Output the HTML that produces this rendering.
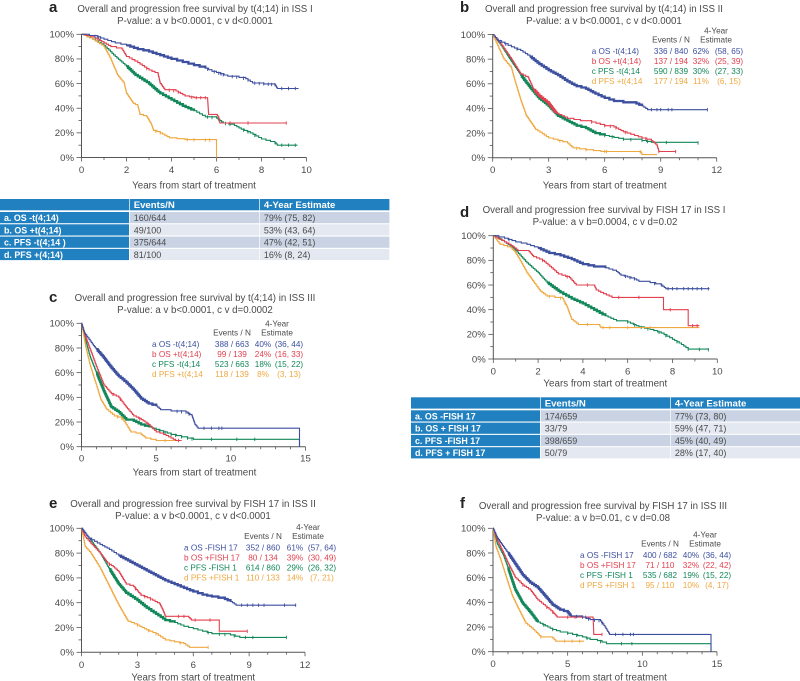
<!DOCTYPE html>
<html lang="en"><head><meta charset="utf-8"><title>Survival by t(4;14) and FISH 17</title>
<style>html,body{margin:0;padding:0;background:#fff}svg{display:block}text{font-family:"Liberation Sans",sans-serif;fill:#4a4a4a}</style>
</head><body>
<svg id="figure" width="800" height="681" viewBox="0 0 800 681" xmlns="http://www.w3.org/2000/svg"></svg>
<script>
const BLUE='#3d4f9f',RED='#e2404f',GREEN='#12875a',ORANGE='#efa840';
// Panel a
const a_os_neg_years=[0,0.7,1,1.5,2,2.5,3,3.5,4,4.5,5,5.5,5.8,6,6.5,7,7.3,7.6,8.6,8.7,9.65];
const a_os_neg_surv=[100,98,96,93,91,88,86,83,80,77.5,75,72.5,70,69,66,65,64,60.5,59,56,56];
const a_os_pos_years=[0,0.6,0.9,1.3,1.8,2,2.5,3,3.4,3.5,3.7,4.2,4.6,5,5.6,5.65,6,6.1,6.15,9.1];
const a_os_pos_surv=[100,97,94,90,88,82,77,71,68,60,55,54,50,48.5,48.5,35,35,32,28,28];
const a_pfs_neg_years=[0,0.5,1,1.5,2,2.4,3,3.5,4,4.5,5,5.5,6,6.3,6.8,7.1,7.5,8,8.6,8.7,9.6];
const a_pfs_neg_surv=[100,96,91,82,74,67,60,52,47,42,38,33,32,28,26,23,20,15,12,10,10];
const a_pfs_pos_years=[0,0.5,1,1.3,1.6,1.9,2,2.3,2.5,2.6,2.9,3.1,3.2,3.5,3.9,4.6,6,6];
const a_pfs_pos_surv=[100,96,90,80,67,60,52,44,42,35,33,27,22,20,16,14.5,14,0];
const a_os_neg_censor=[0.6,0.75,0.85,5.6,5.9,6.1,6.2,6.3,6.7,6.9,7.2,7.4,7.7,7.9,8.1,8.3,8.45,8.6,8.9,9.2,9.5];
const a_os_pos_censor=[2.9,3.9,4.1,4.3,4.9,5.1,5.3,5.5,6.6,7.4,9.1];
const a_pfs_neg_censor=[5.6,5.8,6.1,6.4,6.6,7.2,7.4,7.7,8.6,8.9,9.2,9.5];
const a_pfs_pos_censor=[3.3,3.5,4.7,5,5.5,5.7];
const a_os_neg_dense=[1.6,5.5];
const a_pfs_neg_dense=[2,5.4];
// Panel b
const b_os_neg_years=[0,0.3,1,1.5,2,2.5,3,3.5,4,4.5,5,5.5,6,6.5,7,7.7,8,8.3,11.5];
const b_os_neg_surv=[100,95,90,87,82,76,71,67,62,58,56,52,48.5,46,45,44,42,39,39];
const b_os_pos_years=[0,0.5,1,1.5,1.9,2.2,2.5,3,3.4,4,4.7,5.3,6,6.5,7,7.6,8,8.5,8.8,8.9,9.8];
const b_os_pos_surv=[100,91,80,68,65,55,50,44,36,32,30,29,26,25,21,18,16,14,10,5,5];
const b_pfs_neg_years=[0,0.5,1,1.5,2,2.5,3,3.5,4,4.5,5,5.5,6,6.5,7,8,8.5,11];
const b_pfs_neg_surv=[100,90,78,67,57,48,42,34,30,26,24,20,18,16.5,15,14,12.5,12];
const b_pfs_pos_years=[0,0.3,0.6,1,1.2,1.5,1.8,2.3,3,3.5,4,4.3,5,5.8,7.9,8,8.8];
const b_pfs_pos_surv=[100,90,80,73,62,47,34,23,16,14,12,8,6.5,5,5,2.5,2.5];
const b_os_neg_censor=[0.4,0.7,1.3,8.5,8.8,9,9.4,9.6,11.5];
const b_os_pos_censor=[5.3,6,6.3,6.6,7.1,8.2,8.9,9.8];
const b_pfs_neg_censor=[6,6.4,7,7.4,8,8.3,9.3,11];
const b_pfs_pos_censor=[3.6,4.5,5,6,6.1,7.9];
const b_os_neg_dense=[1.6,8];
const b_os_pos_dense=[2.2,3.6];
const b_pfs_neg_dense=[1.5,6];
// Panel c
const c_os_neg_years=[0,0.2,0.5,0.8,1,1.5,2,2.5,3,3.5,4,4.5,5,5.3,6,7,7.4,7.6,7.8,14.6,14.6];
const c_os_neg_surv=[100,92,87,82,79,72,64,57,52,46,39,35,33,30,29,28,25,18,15,15,0];
const c_os_pos_years=[0,0.3,0.7,1,1.5,2,2.5,3,3.5,4,4.5,5,5.5,6,6.3,6.7];
const c_os_pos_surv=[100,88,75,65,50,43,40,32,25,22,18,12,10,7,5,5];
const c_pfs_neg_years=[0,0.3,0.6,1,1.5,2,2.5,3,3.5,4,4.5,5,5.5,6,6.7,7.5,14.6,14.6];
const c_pfs_neg_surv=[100,85,72,60,45,32,28,22,21,18,16,14,12,10,8,6,6,0];
const c_pfs_pos_years=[0,0.3,0.6,1,1.3,1.7,2.2,2.7,3,3.3,4,4.3,5,6.3,6.7];
const c_pfs_pos_surv=[100,80,65,50,38,30,25,23,18,12,10,7,5,5,5];
const c_os_neg_censor=[6.4,6.7,7,7.2,8.2,8.7,9.2,9.4];
const c_os_pos_censor=[2.1,2.6,3.9,4.4,6.5];
const c_pfs_neg_censor=[5.2,5.6,6,6.3,6.7,7.1,7.4,8.7,10.4,11.6];
const c_pfs_pos_censor=[2.4,2.7,5.6];
const c_os_neg_dense=[1,5];
const c_pfs_neg_dense=[1,4.5];
// Panel d
const d_os_neg_years=[0,0.5,1,1.5,2,2.5,3,3.5,4,4.5,5,5.5,5.7,6,6.3,6.5,7,7.5,7.7,9.65];
const d_os_neg_surv=[100,98,95,93,90,86,84,81,77,75,74,71,68,66.5,65,63,62,60,57,57];
const d_os_pos_years=[0,0.4,0.8,1.1,1.6,1.8,2.2,2.6,2.9,3.4,3.7,4.5,4.6,4.8,5.3,7.6,7.6,8.7,8.7,9.2];
const d_os_pos_surv=[100,96,92,88,87,83,80,74,69,66,60,60,56,54,50,50,40,40,27,27];
const d_pfs_neg_years=[0,0.5,1,1.5,2,2.4,3,3.5,4,4.5,5,5.5,6,6.5,7,7.5,8,8.3,8.7,9.6];
const d_pfs_neg_surv=[100,95,88,78,70,62,54,49,45,40,35,31,30,26,24,21,16,13,8,7.5];
const d_pfs_pos_years=[0,0.3,0.8,1,1.2,1.5,1.9,2.1,2.4,3.1,3.3,3.5,3.8,4.7,4.8,9.2];
const d_pfs_pos_surv=[100,93,90,86,80,70,60,55,51,49,42,32,28,28,25.5,25.5];
const d_os_neg_censor=[0.7,5.9,6.1,6.3,7.2,7.5,7.8,8,8.2,8.5,8.7,8.9,9.1,9.3,9.6];
const d_os_pos_censor=[2.2,3.3,4.2,5.6,6.5,7.9,8.9,9.1];
const d_pfs_neg_censor=[6,6.3,6.6,6.9,7.4,7.7,8.2,8.7,9.2,9.6];
const d_pfs_pos_censor=[2.5,3,3.2,4.2,4.9,5.2,6,7];
const d_os_neg_dense=[1.7,5.4];
const d_pfs_neg_dense=[2.2,5.3];
// Panel e
const e_os_neg_years=[0,0.4,1,1.5,2,2.5,3,3.5,4,4.5,5,5.5,6,6.5,7,7.7,8,8.3,11.5];
const e_os_neg_surv=[100,92,87,83,78,74,70,66,62,58,55,52,49,46.5,45,43,41,38,38];
const e_os_pos_years=[0,0.2,0.5,1,1.4,1.7,2,2.4,2.8,3.2,3.7,4.2,4.4,4.5,5.7,5.9,7.4,7.4,8.9];
const e_os_pos_surv=[100,93,88,80,72,69,65,55,53,46,43,39,33,29,29,26,26,17,17];
const e_pfs_neg_years=[0,0.4,1,1.5,2,2.4,3,3.5,4,4.5,5,5.5,6,6.5,7,8,8.5,11];
const e_pfs_neg_surv=[100,92,80,67,55,48,42,36,31,26,24,21,19,17,15,14,12,12];
const e_pfs_pos_years=[0,0.2,0.5,1,1.5,2,2.5,3,3.5,4,4.5,5,5.5,5.8,6.8];
const e_pfs_pos_surv=[100,85,80,68,53,38,25,22,18,15,10,8.5,7,4,4];
const e_os_neg_censor=[0.5,8.6,8.9,9.2,9.5,9.8,10.9,11.5];
const e_os_pos_censor=[1.5,2.9,3.4,3.7,5.2,5.5,6.1,6.9,8.9];
const e_pfs_neg_censor=[6.8,7.4,7.7,8.2,8.8,9.2,11];
const e_pfs_pos_censor=[3,3.6,4,5.3,6.8];
const e_os_neg_dense=[1.7,8.2];
const e_pfs_neg_dense=[1.5,5.2];
// Panel f
const f_os_neg_years=[0,0.3,0.7,1,1.5,2,2.5,3,3.5,4,4.5,5,5.2,6,6.5,7.2,7.5,7.8,14.6,14.6];
const f_os_neg_surv=[100,92,85,80,71,62,56,52,45,38,34,32,29,28,26,25,20,14,14,0];
const f_os_pos_years=[0,0.3,0.7,1,1.5,2,2.5,3,3.5,4,4.3,5,6.7,6.75,7.3];
const f_os_pos_surv=[100,90,80,72,60,54,50,42,37,32,28,28,28,14,14];
const f_pfs_neg_years=[0,0.3,0.7,1,1.5,2,2.5,3,3.5,4,4.5,5,6,6.5,7,7.6,14.6,14.6];
const f_pfs_neg_surv=[100,87,78,68,50,39,32,24,21,18,16,15,12,10,9,6.5,6.5,0];
const f_pfs_pos_years=[0,0.2,0.5,0.9,1.3,1.7,2.2,2.7,3.2,4,4.2,6.1];
const f_pfs_pos_surv=[100,85,75,60,45,35,23,18,12,11,8.5,8.5];
const f_os_neg_censor=[5.6,6,6.4,6.8,7.1,7.3,8.2,8.7,9.2,9.4];
const f_os_pos_censor=[2,3.6,4,5,5.5,6.2,7.3];
const f_pfs_neg_censor=[3.4,4,5,5.6,6.3,7.2,8.6,9.3];
const f_pfs_pos_censor=[3.2,4.8,5.3,5.8];
const f_os_neg_dense=[1,5.3];
const f_pfs_neg_dense=[1,3];
// Tick labels
const yTickLabels=[0,20,40,60,80,100];
const xTicksTen=[0,2,4,6,8,10];
const xTicksTwelve=[0,3,6,9,12];
const xTicksFifteen=[0,5,10,15];
// Legends
const b_legend=[['a OS -t(4;14)','336 / 840','62%','(58, 65)'],['b OS +t(4;14)','137 / 194','32%','(25, 39)'],['c PFS -t(4;14','590 / 839','30%','(27, 33)'],['d PFS +t(4;14','177 / 194','11%','(6, 15)']];
const c_legend=[['a OS -t(4;14)','388 / 663','40%','(36, 44)'],['b OS +t(4;14)','99 / 139','24%','(16, 33)'],['c PFS -t(4;14','523 / 663','18%','(15, 22)'],['d PFS +t(4;14','118 / 139','8%','(3, 13)']];
const e_legend=[['a OS -FISH 17','352 / 860','61%','(57, 64)'],['b OS +FISH 17','80 / 134','39%','(30, 49)'],['c PFS -FISH 1','614 / 860','29%','(26, 32)'],['d PFS +FISH 1','110 / 133','14%','(7, 21)']];
const f_legend=[['a OS -FISH 17','400 / 682','40%','(36, 44)'],['b OS +FISH 17','71 / 110','32%','(22, 42)'],['c PFS -FISH 1','535 / 682','19%','(15, 22)'],['d PFS +FISH 1','95 / 110','10%','(4, 17)']];
// Tables
const a_table=[['a. OS -t(4;14)','160/644','79% (75, 82)'],['b. OS +t(4;14)','49/100','53% (43, 64)'],['c. PFS -t(4;14 )','375/644','47% (42, 51)'],['d. PFS +(4;14)','81/100','16% (8, 24)']];
const d_table=[['a. OS -FISH 17','174/659','77% (73, 80)'],['b. OS + FISH 17','33/79','59% (47, 71)'],['c. PFS -FISH 17','398/659','45% (40, 49)'],['d. PFS + FISH 17','50/79','28% (17, 40)']];

const NS='http://www.w3.org/2000/svg';
const svg=document.getElementById('figure');
function mk(parent,tag,attrs,txt){
  const el=document.createElementNS(NS,tag);
  for(const k in attrs)el.setAttribute(k,attrs[k]);
  if(txt!==undefined)el.textContent=txt;
  parent.appendChild(el);
  return el;
}
function label(parent,name,x,y,str,size,anchor,fill,weight){
  const attrs={x:x,y:y,'font-size':size,'text-anchor':anchor||'start'};
  if(fill)attrs.style='fill:'+fill;
  if(weight)attrs['font-weight']=weight;
  const el=mk(parent,'text',attrs,str);
  
  
  return el;
}
function valueAt(years,surv,t){
  for(let i=years.length-1;i>=0;i--){
    if(t>=years[i]){
      if(i===years.length-1||years[i+1]===years[i])return surv[i];
      return surv[i]+(surv[i+1]-surv[i])*(t-years[i])/(years[i+1]-years[i]);
    }
  }
  return surv[0];
}
function stairPath(years,surv,sx,sy,from,to){
  let d='',started=false;
  for(let i=0;i<years.length;i++){
    const t=years[i];
    if(t<from||t>to)continue;
    if(!started){d='M'+sx(t).toFixed(1)+' '+sy(surv[i]).toFixed(1);started=true;continue;}
    const x0=sx(years[i-1]),y0=sy(surv[i-1]),x1=sx(t),y1=sy(surv[i]);
    const n=Math.max(1,Math.ceil(Math.abs(y1-y0)/1.6));
    if(x1-x0<0.5||y1===y0){d+='L'+x1.toFixed(1)+' '+y0.toFixed(1)+'L'+x1.toFixed(1)+' '+y1.toFixed(1);continue;}
    for(let k=1;k<=n;k++){
      const xk=x0+(x1-x0)*k/n,yk=y0+(y1-y0)*k/n;
      d+='L'+xk.toFixed(1)+' '+(y0+(y1-y0)*(k-1)/n).toFixed(1)+'L'+xk.toFixed(1)+' '+yk.toFixed(1);
    }
  }
  return d;
}
function drawSeries(g,key,years,surv,censor,dense,color,sx,sy){
  const line=mk(g,'path',{d:stairPath(years,surv,sx,sy,-1,99),fill:'none',stroke:color,'stroke-width':1.1});
  
  
  if(dense){
    const thick=mk(g,'path',{d:stairPath(years,surv,sx,sy,dense[0],dense[1]),fill:'none',stroke:color,'stroke-width':2.3});
    
    
  }
  censor.forEach(function(t){
    const x=sx(t),y=sy(valueAt(years,surv,t));
    const tick=mk(g,'line',{x1:x,x2:x,y1:y-1.7,y2:y+1.7,stroke:color,'stroke-width':0.9});
    
    
  });
}
function drawPanel(p){
  const g=mk(svg,'g',{});
  
  
  const sx=function(v){return p.x0+(p.x1-p.x0)*v/p.xMax;};
  const sy=function(v){return p.y0+(p.y100-p.y0)*v/100;};
  label(g,'panel-letter-'+p.id,p.letterX,p.letterY,p.id,15,'start','#222','bold');
  label(g,'chart-title',p.titleX,p.titleY,p.title,9.7,'middle');
  label(g,'p-value-subtitle',p.titleX+p.subDx,p.titleY+12,p.sub,9.7,'middle');
  const axis=mk(g,'path',{d:'M'+sx(0)+' '+sy(100)+'V'+sy(0)+'H'+sx(p.xMax),fill:'none',stroke:'#555','stroke-width':1});
  
  
  for(let v=0;v<=100;v+=10){
    const major=v%20===0;
    const t=mk(g,'line',{x1:sx(0)-(major?5:3),x2:sx(0),y1:sy(v),y2:sy(v),stroke:'#555','stroke-width':0.8});
    
    
  }
  yTickLabels.forEach(function(v){
    label(g,'y-tick-label',sx(0)-7.5,sy(v)+3.3,v+'%',9.6,'end');
  });
  for(let v=0;v<=p.xMax;v++){
    const major=p.xTicks.indexOf(v)>=0;
    const t=mk(g,'line',{x1:sx(v),x2:sx(v),y1:sy(0),y2:sy(0)+(major?4:2.5),stroke:'#555','stroke-width':0.8});
    
    
  }
  p.xTicks.forEach(function(v){
    label(g,'x-tick-label',sx(v),sy(0)+p.tickDy,String(v),9.6,'middle');
  });
  label(g,'x-axis-title',sx(p.xMax/2)+p.xTitleDx,sy(0)+p.xTitleDy,'Years from start of treatment',9.8,'middle');
  p.series.forEach(function(s){
    drawSeries(g,s[0],s[1],s[2],s[3],s[4],s[5],sx,sy);
  });
  if(p.legend)drawLegend(g,p);
}
function drawLegend(g,p){
  const L=p.legendPos,colors=[BLUE,RED,GREEN,ORANGE];
  label(g,'legend-header-events',L.ev,L.y-11.5,'Events / N',8.2,'middle');
  label(g,'legend-header-4-year',L.hd,L.y-20.5,'4-Year',8.2,'middle');
  label(g,'legend-header-estimate',L.hd,L.y-11.5,'Estimate',8.2,'middle');
  p.legend.forEach(function(r,i){
    const y=L.y+i*10;
    label(g,'legend-entry-name',L.name,y,r[0],8.2,'start',colors[i]);
    label(g,'legend-entry-events',L.ev,y,r[1],8.2,'middle',colors[i]);
    label(g,'legend-entry-percent',L.pc,y,r[2],8.2,'middle',colors[i]);
    label(g,'legend-entry-ci',L.ci,y,r[3],8.2,'middle',colors[i]);
  });
}
function drawTable(name,rows,x,y,w1,w2,w3,head){
  const g=mk(svg,'g',{});
  
  
  const HB='#2180c0',F=['#c9d3e3','#e4e8f0'];
  const xs=[x,x+w1+0.7,x+w1+w2+1.4],ws=[w1,w2,w3];
  function cell(cx,cy,cw,ch,fill){
    const c=mk(g,'rect',{x:cx,y:cy,width:cw,height:ch,fill:fill});
    
    
  }
  for(let i=0;i<3;i++)cell(xs[i],y,ws[i],11.3,HB);
  label(g,'table-header-events',xs[1]+4,y+9,head[0],9.6,'start','#fff','bold');
  label(g,'table-header-estimate',xs[2]+4,y+9,head[1],9.6,'start','#fff','bold');
  rows.forEach(function(r,i){
    const ry=y+13+i*12.3;
    cell(xs[0],ry,ws[0],11.2,HB);
    cell(xs[1],ry,ws[1],11.2,F[i%2]);
    cell(xs[2],ry,ws[2],11.2,F[i%2]);
    label(g,'table-row-label',xs[0]+4,ry+9,r[0],8.9,'start','#fff','bold');
    label(g,'table-events',xs[1]+4,ry+9,r[1],9);
    label(g,'table-estimate',xs[2]+4,ry+9,r[2],9);
  });
}
const title='Overall and progression free survival by ';
drawPanel({id:'a',x0:81.5,x1:306.5,y100:34.3,y0:157.5,xMax:10,xTicks:xTicksTen,tickDy:15.5,xTitleDx:0,xTitleDy:31,letterX:49,letterY:12,titleX:195,titleY:12,subDx:0,title:title+'t(4;14) in ISS I',sub:'P-value: a v b<0.0001, c v d<0.0001',series:[
 ['pfs-negative',a_pfs_neg_years,a_pfs_neg_surv,a_pfs_neg_censor,a_pfs_neg_dense,GREEN],
 ['pfs-positive',a_pfs_pos_years,a_pfs_pos_surv,a_pfs_pos_censor,null,ORANGE],
 ['os-positive',a_os_pos_years,a_os_pos_surv,a_os_pos_censor,null,RED],
 ['os-negative',a_os_neg_years,a_os_neg_surv,a_os_neg_censor,a_os_neg_dense,BLUE]]});
drawPanel({id:'b',x0:492.7,x1:716.7,y100:34.5,y0:157.7,xMax:12,xTicks:xTicksTwelve,tickDy:15.5,xTitleDx:0,xTitleDy:31,letterX:460,letterY:12,titleX:604,titleY:12,subDx:0,title:title+'t(4;14) in ISS II',sub:'P-value: a v b<0.0001, c v d<0.0001',legend:b_legend,legendPos:{name:591.7,ev:671,pc:701,ci:729,hd:716,y:54},series:[
 ['pfs-negative',b_pfs_neg_years,b_pfs_neg_surv,b_pfs_neg_censor,b_pfs_neg_dense,GREEN],
 ['pfs-positive',b_pfs_pos_years,b_pfs_pos_surv,b_pfs_pos_censor,null,ORANGE],
 ['os-positive',b_os_pos_years,b_os_pos_surv,b_os_pos_censor,b_os_pos_dense,RED],
 ['os-negative',b_os_neg_years,b_os_neg_surv,b_os_neg_censor,b_os_neg_dense,BLUE]]});
drawPanel({id:'c',x0:81.5,x1:305.5,y100:323.3,y0:446.7,xMax:15,xTicks:xTicksFifteen,tickDy:15,xTitleDx:1,xTitleDy:29,letterX:49,letterY:302,titleX:195,titleY:301,subDx:0,title:title+'t(4;14) in ISS III',sub:'P-value: a v b<0.0001, c v d=0.0002',legend:c_legend,legendPos:{name:152,ev:232,pc:263,ci:289,hd:277,y:347},series:[
 ['pfs-negative',c_pfs_neg_years,c_pfs_neg_surv,c_pfs_neg_censor,c_pfs_neg_dense,GREEN],
 ['pfs-positive',c_pfs_pos_years,c_pfs_pos_surv,c_pfs_pos_censor,null,ORANGE],
 ['os-positive',c_os_pos_years,c_os_pos_surv,c_os_pos_censor,null,RED],
 ['os-negative',c_os_neg_years,c_os_neg_surv,c_os_neg_censor,c_os_neg_dense,BLUE]]});
drawPanel({id:'d',x0:493.3,x1:717.3,y100:235.7,y0:359,xMax:10,xTicks:xTicksTen,tickDy:15.5,xTitleDx:0,xTitleDy:27.5,letterX:460,letterY:217,titleX:604,titleY:213,subDx:1,title:title+'FISH 17 in ISS I',sub:'P-value: a v b=0.0004, c v d=0.02',series:[
 ['pfs-negative',d_pfs_neg_years,d_pfs_neg_surv,d_pfs_neg_censor,d_pfs_neg_dense,GREEN],
 ['pfs-positive',d_pfs_pos_years,d_pfs_pos_surv,d_pfs_pos_censor,null,ORANGE],
 ['os-positive',d_os_pos_years,d_os_pos_surv,d_os_pos_censor,null,RED],
 ['os-negative',d_os_neg_years,d_os_neg_surv,d_os_neg_censor,d_os_neg_dense,BLUE]]});
drawPanel({id:'e',x0:81.5,x1:305,y100:528.3,y0:652.3,xMax:12,xTicks:xTicksTwelve,tickDy:15.5,xTitleDx:0,xTitleDy:28,letterX:49,letterY:508,titleX:193,titleY:507,subDx:0,title:title+'FISH 17 in ISS II',sub:'P-value: a v b<0.0001, c v d<0.0001',legend:e_legend,legendPos:{name:184,ev:263,pc:295,ci:322,hd:308,y:550.5},series:[
 ['pfs-negative',e_pfs_neg_years,e_pfs_neg_surv,e_pfs_neg_censor,e_pfs_neg_dense,GREEN],
 ['pfs-positive',e_pfs_pos_years,e_pfs_pos_surv,e_pfs_pos_censor,null,ORANGE],
 ['os-positive',e_os_pos_years,e_os_pos_surv,e_os_pos_censor,null,RED],
 ['os-negative',e_os_neg_years,e_os_neg_surv,e_os_neg_censor,e_os_neg_dense,BLUE]]});
drawPanel({id:'f',x0:493,x1:717,y100:528.3,y0:651.7,xMax:15,xTicks:xTicksFifteen,tickDy:15.5,xTitleDx:0,xTitleDy:29,letterX:460,letterY:508,titleX:603,titleY:509,subDx:0,title:title+'FISH 17 in ISS III',sub:'P-value: a v b=0.01, c v d=0.08',legend:f_legend,legendPos:{name:580,ev:660,pc:691,ci:717,hd:705,y:558},series:[
 ['pfs-negative',f_pfs_neg_years,f_pfs_neg_surv,f_pfs_neg_censor,f_pfs_neg_dense,GREEN],
 ['pfs-positive',f_pfs_pos_years,f_pfs_pos_surv,f_pfs_pos_censor,null,ORANGE],
 ['os-positive',f_os_pos_years,f_os_pos_surv,f_os_pos_censor,null,RED],
 ['os-negative',f_os_neg_years,f_os_neg_surv,f_os_neg_censor,f_os_neg_dense,BLUE]]});
drawTable('iss-i-t414-table',a_table,0,199,129,129.5,129.5,['Events/N','4-Year Estimate']);
drawTable('iss-i-fish17-table',d_table,411,397.3,129,129.5,129.5,['Events/N','4-Year Estimate']);
</script>
</body></html>
